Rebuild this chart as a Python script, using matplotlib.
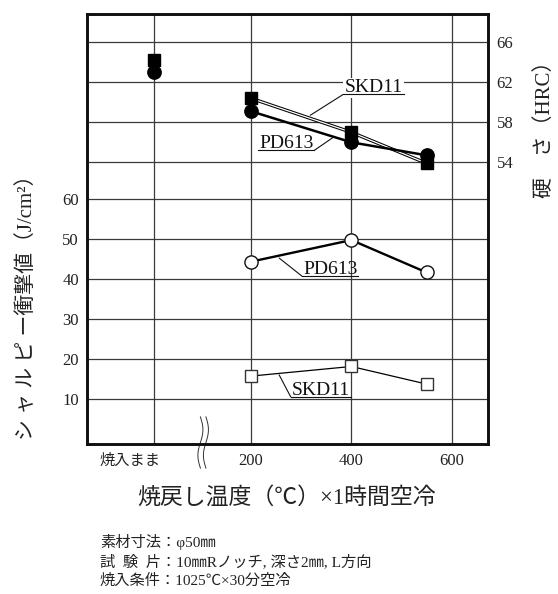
import numpy as np
import matplotlib
matplotlib.use("Agg")
import matplotlib.pyplot as plt
from matplotlib.lines import Line2D
from matplotlib.transforms import blended_transform_factory

plt.rcParams["font.family"] = ["Liberation Serif", "Noto Sans CJK JP"]

# tempering temperature (deg C) of the measured points
temper_temp = [200, 400, 550]
temper_ticks = [200, 400, 600]
temper_labels = ["200", "400", "600"]
aq_label = "焼入まま"

# hardness (HRC): as-quenched value, then after tempering
hrc_skd11_aq = 64.2
hrc_skd11 = [60.4, 57.0, 53.9]
hrc_pd613_aq = 63.0
hrc_pd613 = [59.1, 56.0, 54.7]

# charpy impact value (J/cm2)
impact_pd613 = [44.4, 49.8, 41.7]
impact_skd11 = [15.8, 18.2, 13.8]

impact_ticks = [10, 20, 30, 40, 50, 60]
hrc_ticks = [54, 58, 62, 66]

AQ_POS = 7  # x position used for the as-quenched column
GRID = "#3a3a3a"
W, H = 558, 594


def fx(px):
    return px / W


def fy(py):
    return 1 - py / H


fig = plt.figure(figsize=(W / 100, H / 100), dpi=100)
ax = fig.add_axes([fx(87.3), fy(444.3), (488.3 - 87.3) / W, (444.3 - 14) / H])
ax.set_xlim(-126.5, 673)
ax.set_ylim(-1.25, 106.3)
ax2 = ax.twinx()
ax2.set_ylim(25.8, 68.83)

# grid and ticks
ax.set_xticks([AQ_POS] + temper_ticks)
ax.set_xticklabels([""] + temper_labels)
ax.set_yticks(impact_ticks)
ax2.set_yticks(hrc_ticks)
ax.grid(True, color=GRID, lw=0.9)
ax2.grid(True, axis="y", color=GRID, lw=0.9)
ax.set_axisbelow(True)
for a in (ax, ax2):
    a.tick_params(length=0, labelsize=12, pad=6, labelcolor="#222")
    for s in a.spines.values():
        s.set_linewidth(1.9)
        s.set_color("#111")

tr = blended_transform_factory(ax.transData, ax.transAxes)
ax.text(-41, -0.039, aq_label, transform=tr, ha="center", va="center",
        fontsize=11, color="#222")

# axis break mark on the x axis
t = np.linspace(0, 1, 60)
yb = 5.6 - t * 12.8
for xc in (99, 110):
    ax.plot(xc + 5 * np.sin(2 * np.pi * t), yb, color="#333", lw=0.7,
            clip_on=False, zorder=4)

# impact values
ax.plot(temper_temp, impact_pd613, color="k", lw=1.7, marker="o", ms=9.5,
        mfc="white", mec="#111", mew=1.0, zorder=3)
ax.plot(temper_temp, impact_skd11, color="k", lw=0.9, marker="s", ms=9,
        mfc="white", mec="#333", mew=1.0, zorder=3)

# hardness
ax2.plot(temper_temp, hrc_skd11, color="k", lw=2.4, zorder=2)
ax2.plot(temper_temp, hrc_skd11, color="white", lw=0.9, zorder=2)
ax2.plot(temper_temp, hrc_pd613, color="k", lw=1.8, zorder=2.5)
ax2.plot([AQ_POS] + temper_temp, [hrc_skd11_aq] + hrc_skd11, ls="none",
         marker="s", ms=8.4, color="k", zorder=3)
ax2.plot([AQ_POS] + temper_temp, [hrc_pd613_aq] + hrc_pd613, ls="none",
         marker="o", ms=9.6, color="k", zorder=3.5)

# underlined labels with leader lines
labels = []


def label(axis, text, pos, tip, side, box=False):
    tx = axis.text(pos[0], pos[1], text, ha="center", va="baseline",
                   fontsize=14, color="#111", zorder=5)
    if box:
        tx.set_bbox(dict(facecolor="white", edgecolor="none", pad=1))
    labels.append((axis, tx, pos, tip, side))


label(ax2, "SKD11", (444, 61.0), (318, 58.7), "left", box=True)
label(ax2, "PD613", (270, 55.4), (364, 56.5), "right")
label(ax, "PD613", (358, 41.25), (256, 45.3), "left")
label(ax, "SKD11", (339, 11.1), (256, 16.1), "left")

fig.canvas.draw()
renderer = fig.canvas.get_renderer()
inv = fig.transFigure.inverted()
for axis, tx, pos, tip, side in labels:
    ext = tx.get_window_extent(renderer)
    by = axis.transData.transform(pos)[1] - 2
    p0 = inv.transform((ext.x0 - 1, by))
    p1 = inv.transform((ext.x1 + 1, by))
    fig.add_artist(Line2D([p0[0], p1[0]], [p0[1], p1[1]], color="#111",
                          lw=0.8, transform=fig.transFigure))
    end = p0 if side == "left" else p1
    axis.annotate("", xy=tip, xycoords="data", xytext=tuple(end),
                  textcoords="figure fraction",
                  arrowprops=dict(arrowstyle="-", lw=0.8, color="#111",
                                  shrinkA=0, shrinkB=0))

# axis titles and notes
fig.text(fx(27), fy(302), "シ ャ ル ピ ー衝撃値（J/cm²）", rotation=90,
         ha="center", va="center", fontsize=15, color="#222")
fig.text(fx(545), fy(124), "硬\u2003さ（HRC）", rotation=90,
         ha="center", va="center", fontsize=15, color="#222")
fig.text(fx(287), fy(498), "焼戻し温度（℃）×1時間空冷",
         ha="center", va="center", fontsize=16.5, color="#222")

notes = ["素材寸法：φ50㎜",
         "試\u2002験\u2002片：10㎜Rノッチ, 深さ2㎜, L方向",
         "焼入条件：1025℃×30分空冷"]
for i, line in enumerate(notes):
    fig.text(fx(100), fy(542 + 19.5 * i), line, ha="left", va="center",
             fontsize=11, color="#222")

fig.savefig("out.png", dpi=100, facecolor="white")
